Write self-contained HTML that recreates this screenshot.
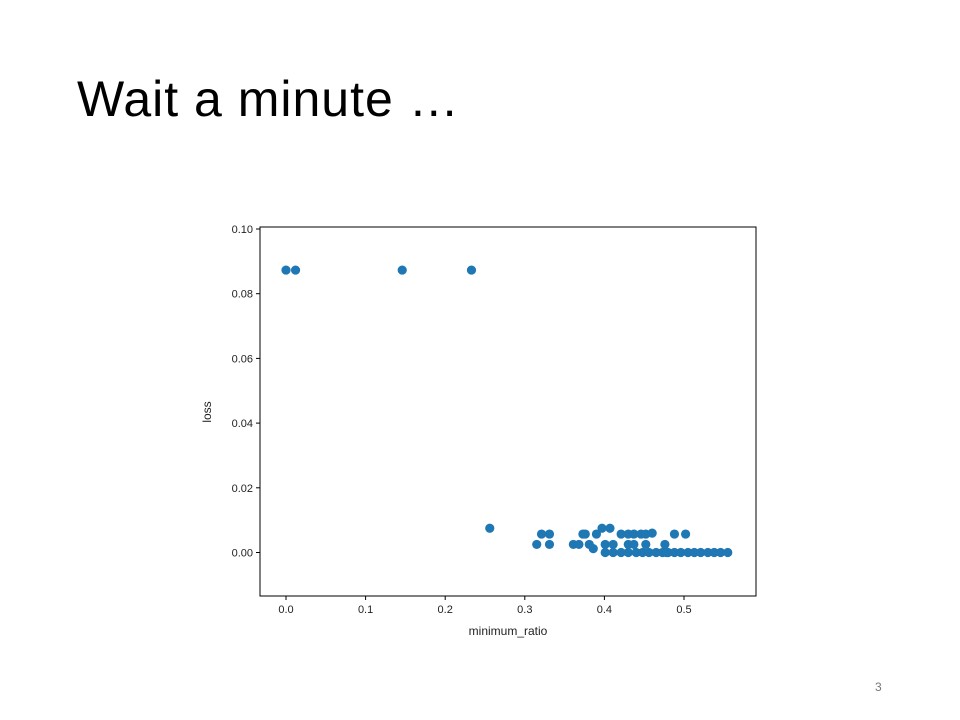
<!DOCTYPE html>
<html><head><meta charset="utf-8"><style>
body{margin:0;background:#fff;width:960px;height:720px;overflow:hidden;font-family:"Liberation Sans",sans-serif;}
#title{position:absolute;left:77px;top:70px;font-size:50px;letter-spacing:1px;color:#000;font-family:"Liberation Sans",sans-serif;}
#pg{position:absolute;left:875px;top:680px;font-size:12px;color:#777;}
svg{position:absolute;left:0;top:0}
</style></head><body>
<div id="title">Wait a minute …</div>
<div id="pg">3</div>
<svg id="c" width="960" height="720"></svg>
<script>
const xTicks=[0.0,0.1,0.2,0.3,0.4,0.5];
const yTicks=[0.00,0.02,0.04,0.06,0.08,0.10];
const xTickLabels=["0.0","0.1","0.2","0.3","0.4","0.5"];
const yTickLabels=["0.00","0.02","0.04","0.06","0.08","0.10"];
const ratioValues=[0.0,0.012,0.146,0.233,0.256,0.315,0.321,0.331,0.331,0.361,0.368,0.373,0.381,0.376,0.386,0.39,0.397,0.407,0.401,0.411,0.401,0.411,0.421,0.43,0.437,0.446,0.452,0.46,0.43,0.437,0.452,0.421,0.43,0.44,0.448,0.456,0.465,0.473,0.48,0.488,0.496,0.505,0.513,0.521,0.53,0.538,0.546,0.555,0.476,0.488,0.502,0.478];
const lossValues=[0.0873,0.0873,0.0873,0.0873,0.0075,0.0025,0.0057,0.0057,0.0025,0.0025,0.0025,0.0057,0.0025,0.0057,0.0012,0.0057,0.0075,0.0075,0.0025,0.0025,0.0,0.0,0.0057,0.0057,0.0057,0.0057,0.0057,0.006,0.0025,0.0025,0.0025,0.0,0.0,0.0,0.0,0.0,0.0,0.0,0.0,0.0,0.0,0.0,0.0,0.0,0.0,0.0,0.0,0.0,0.0025,0.0057,0.0057,0.0];
const svg=document.getElementById('c');
const NS='http://www.w3.org/2000/svg';
const L=260,R=756,T=227,B=596;
const xs=v=>286+v*796;
const ys=v=>552.5-v*3235;
function mk(t,a){const e=document.createElementNS(NS,t);for(const k in a)e.setAttribute(k,a[k]);svg.appendChild(e);return e;}
const frame=mk('rect',{x:L,y:T,width:R-L,height:B-T,fill:'none',stroke:'#000','stroke-width':1});


xTicks.forEach((v,i)=>{
  const t=mk('line',{x1:xs(v),x2:xs(v),y1:B,y2:B+4,stroke:'#000'});
  
  
  const l=mk('text',{x:xs(v),y:B+17,'text-anchor':'middle','font-size':11,fill:'#222'});
  l.textContent=xTickLabels[i];
  
  
});
yTicks.forEach((v,i)=>{
  const t=mk('line',{x1:L-4,x2:L,y1:ys(v),y2:ys(v),stroke:'#000'});
  
  
  const l=mk('text',{x:L-7,y:ys(v)+4,'text-anchor':'end','font-size':11,fill:'#222'});
  l.textContent=yTickLabels[i];
  
  
});
const xt=mk('text',{x:508,y:635,'text-anchor':'middle','font-size':12,fill:'#222'});
xt.textContent='minimum_ratio';


const yt=mk('text',{x:211,y:412,'text-anchor':'middle','font-size':12,fill:'#222',transform:'rotate(-90 211 412)'});
yt.textContent='loss';


ratioValues.forEach((v,i)=>{
  const p=mk('circle',{cx:xs(v),cy:ys(lossValues[i]),r:4.6,fill:'#1f77b4'});
  
  
});
</script>
</body></html>
